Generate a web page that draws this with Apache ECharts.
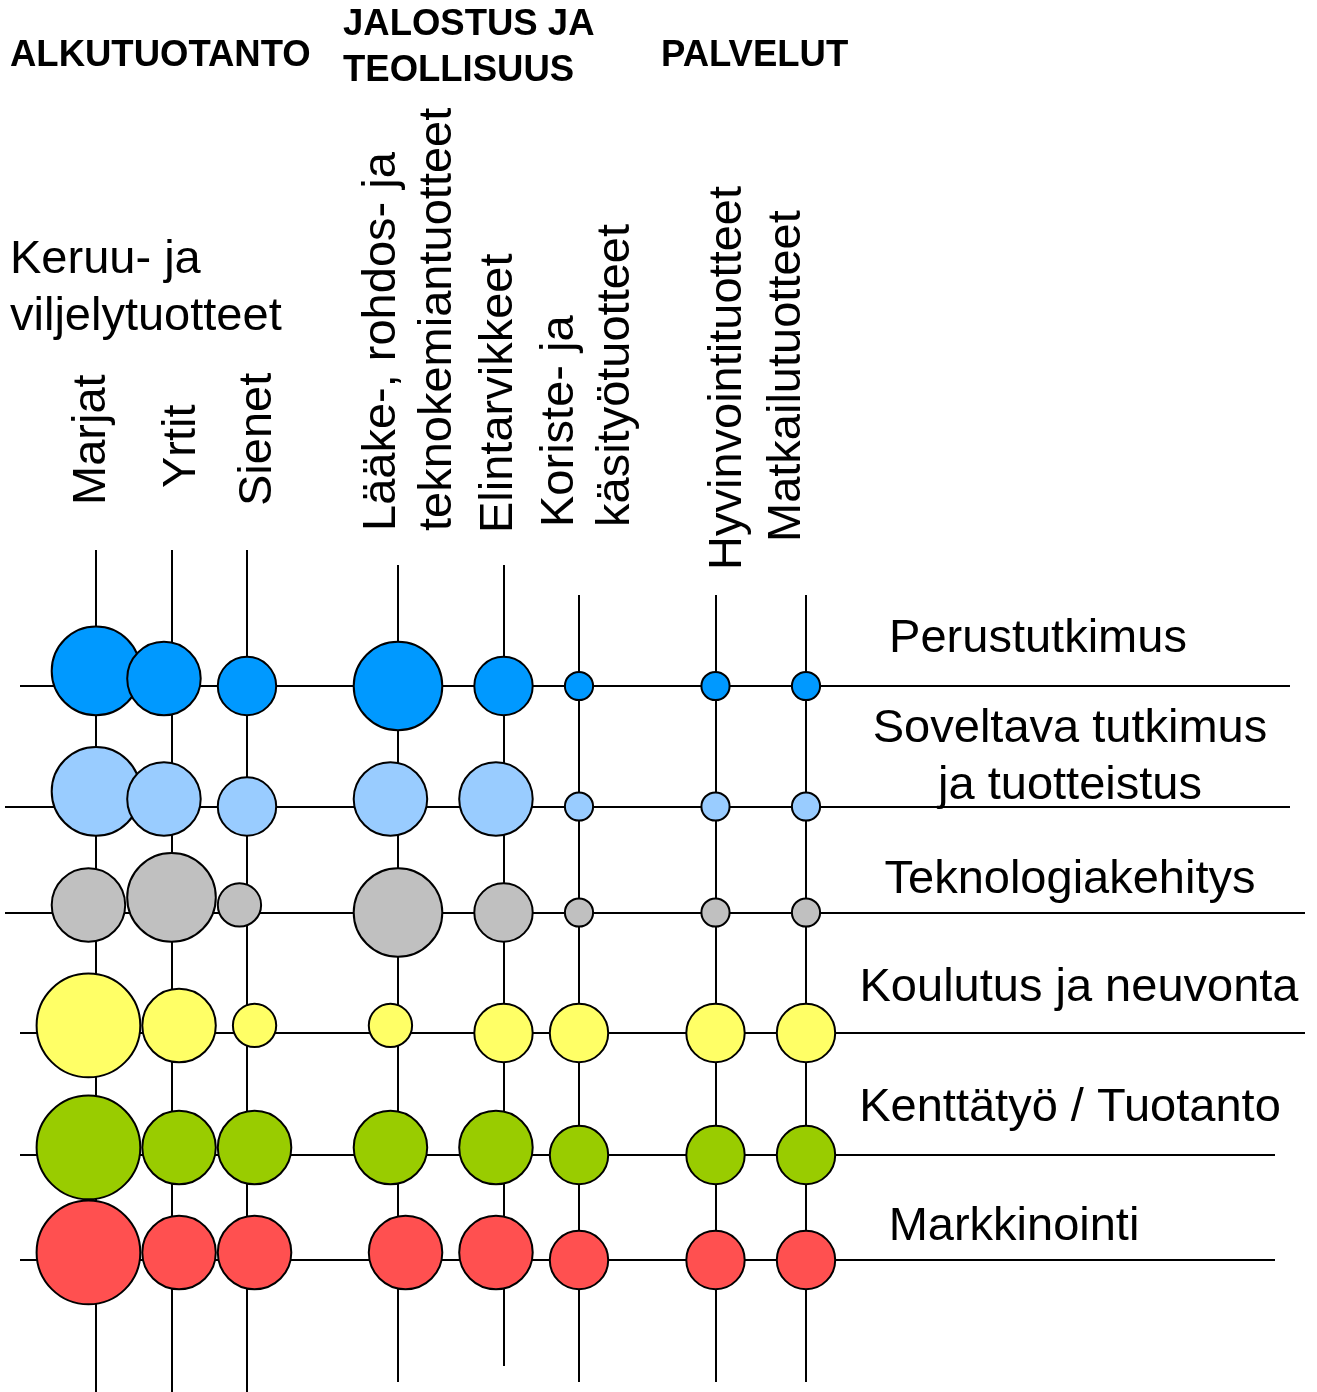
<!DOCTYPE html>
<html>
<head>
<meta charset="utf-8">
<title>Tuoteryhmät ja toiminnot</title>
<script src="https://cdn.jsdelivr.net/npm/echarts@6/dist/echarts.min.js"></script>
<style>
  html, body { margin: 0; padding: 0; background: #fff; }
  #chart { width: 1317px; height: 1392px; }
</style>
</head>
<body>
<div id="chart"></div>
<script>
// --- data ---
const groups = ['ALKUTUOTANTO', 'JALOSTUS JA\nTEOLLISUUS', 'PALVELUT'];
const subgroup = 'Keruu- ja\nviljelytuotteet';
const columns = [
  'Marjat', 'Yrtit', 'Sienet',
  'Lääke-, rohdos- ja\nteknokemiantuotteet', 'Elintarvikkeet', 'Koriste- ja\nkäsityötuotteet',
  'Hyvinvointituotteet', 'Matkailutuotteet'
];
const rows = [
  'Perustutkimus', 'Soveltava tutkimus\nja tuotteistus', 'Teknologiakehitys',
  'Koulutus ja neuvonta', 'Kenttätyö / Tuotanto', 'Markkinointi'
];

// painoarvo 1..6 (pallon koko) sarakkeittain
const perustutkimus = [5, 4, 3, 5, 3, 1, 1, 1];
const soveltava     = [5, 4, 3, 4, 4, 1, 1, 1];
const teknologia    = [4, 5, 2, 5, 3, 1, 1, 1];
const koulutus      = [6, 4, 2, 2, 3, 3, 3, 3];
const kenttatyo     = [6, 4, 4, 4, 4, 3, 3, 3];
const markkinointi  = [6, 4, 4, 4, 4, 3, 3, 3];

// --- layout (axis units = px of the canvas) ---
const colPos = [96, 171.5, 247, 398, 503.5, 579, 715.5, 806];
const rowPos = [686, 806.5, 912.5, 1033, 1155, 1260];
const colSpan = [[550, 1392], [550, 1392], [550, 1392], [565, 1382], [565, 1366], [595, 1382], [595, 1382], [595, 1382]];
const rowSpan = [[20, 1290], [5, 1290], [5, 1305], [20, 1305], [20, 1275], [20, 1275]];
const rowColors = ['#0099FF', '#99CCFF', '#C0C0C0', '#FFFF66', '#99CC00', '#FF5050'];
const STEP = 7.55;   // half of one size step
const BORDER = 2;
// small nudges of the bubbles (in STEP units), as placed in the original slide
const nudgeX = [
  [0, -1, 0, 0, 0, 0, 0, 0],
  [0, -1, 0, -1, -1, 0, 0, 0],
  [-1, 0, -1, 0, 0, 0, 0, 0],
  [-1, 1, 1, -1, 0, 0, 0, 0],
  [-1, 1, 1, -1, -1, 0, 0, 0],
  [-1, 1, 1, 1, -1, 0, 0, 0]
];
const nudgeY = [
  [-2, -1, 0, 0, 0, 0, 0, 0],
  [-2, -1, 0, -1, -1, 0, 0, 0],
  [-1, -2, -1, 0, 0, 0, 0, 0],
  [-1, -1, -1, -1, 0, 0, 0, 0],
  [-1, -1, -1, -1, -1, 0, 0, 0],
  [-1, -1, -1, -1, -1, 0, 0, 0]
];

const FONT = '"Liberation Sans", Arial, Helvetica, sans-serif';
const chart = echarts.init(document.getElementById('chart'));

const levels = [perustutkimus, soveltava, teknologia, koulutus, kenttatyo, markkinointi];

const gridLines = [];
colPos.forEach((x, c) => gridLines.push({ coords: [[x, colSpan[c][0]], [x, colSpan[c][1]]] }));
rowPos.forEach((y, r) => gridLines.push({ coords: [[rowSpan[r][0], y], [rowSpan[r][1], y]] }));

const series = [{
  type: 'lines',
  coordinateSystem: 'cartesian2d',
  z: 1,
  silent: true,
  lineStyle: { color: '#000', width: 2, opacity: 1 },
  data: gridLines
}];

levels.forEach((vals, r) => {
  series.push({
    type: 'scatter',
    name: rows[r],
    z: 2,
    silent: true,
    symbol: 'circle',
    itemStyle: { color: rowColors[r], borderColor: '#000', borderWidth: BORDER, opacity: 1 },
    data: vals.map((v, c) => ({
      value: [colPos[c], rowPos[r], v],
      symbolSize: (v + 1) * 2 * STEP - BORDER,
      symbolOffset: [nudgeX[r][c] * STEP, nudgeY[r][c] * STEP]
    }))
  });
});

// text placement
const colLabelX = [92, 182, 258, 410, 499.5, 588.5, 728, 787];
const colLabelY = [505, 488, 506, 531, 533, 527, 570, 542];
const rowLabelX = [1038, 1070, 1070, 1079, 1070, 1014];
const rowLabelY = [639, 758, 880, 988, 1108, 1227];
const groupX = [10, 343, 661];
const groupY = [56, 48, 56];

const text = (t, x, y, o) => Object.assign({
  type: 'text', x, y, silent: true,
  style: Object.assign({
    text: t, fill: '#000', fontFamily: FONT, fontSize: 47,
    align: 'left', verticalAlign: 'middle', lineHeight: 56
  }, o.style || {})
}, o.el || {});

const graphics = [];
groups.forEach((g, i) => graphics.push(text(g, groupX[i], groupY[i], {
  style: { fontSize: 36.5, fontWeight: 'bold', lineHeight: 46 }
})));
graphics.push(text(subgroup, 10, 289, { style: { lineHeight: 57 } }));
columns.forEach((name, c) => graphics.push(text(name, colLabelX[c], colLabelY[c], {
  el: { rotation: Math.PI / 2 }
})));
rows.forEach((name, r) => graphics.push(text(name, rowLabelX[r], rowLabelY[r], {
  style: { align: 'center', lineHeight: 57 }
})));

chart.setOption({
  animation: false,
  backgroundColor: '#fff',
  grid: { left: 0, right: 0, top: 0, bottom: 0, containLabel: false },
  xAxis: { type: 'value', min: 0, max: 1317, show: false },
  yAxis: { type: 'value', min: 0, max: 1392, inverse: true, show: false },
  graphic: graphics,
  series: series
});
</script>
</body>
</html>
